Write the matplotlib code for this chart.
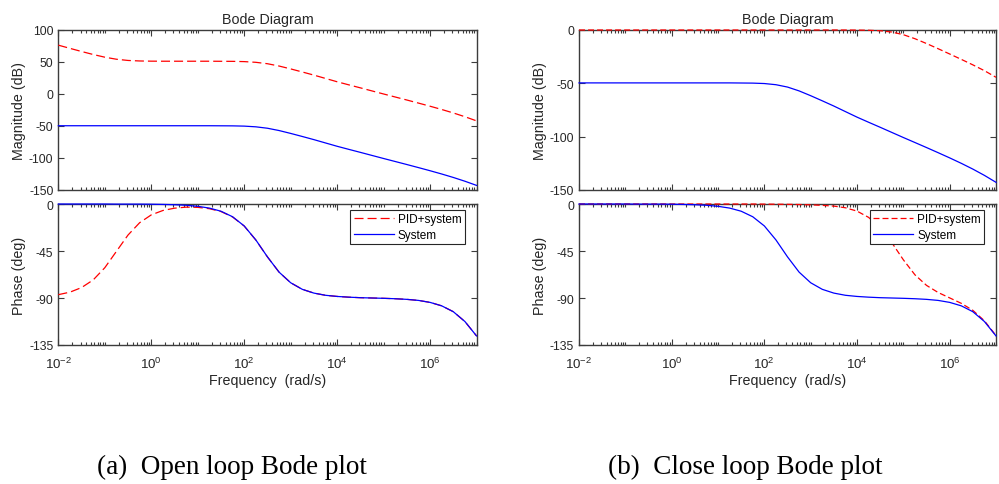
import numpy as np
import matplotlib.pyplot as plt
from matplotlib.ticker import LogLocator, NullFormatter, FixedLocator

plt.rcParams['font.family'] = ['Liberation Sans', 'DejaVu Sans']
plt.rcParams['mathtext.default'] = 'regular'
plt.rcParams['axes.unicode_minus'] = False
plt.rcParams['lines.scale_dashes'] = False

# frequency grid (rad/s), quarter decades
freq = [1e-2, 1.78e-2, 3.16e-2, 5.62e-2, 1e-1, 1.78e-1, 3.16e-1, 5.62e-1,
        1e0, 1.78e0, 3.16e0, 5.62e0, 1e1, 1.78e1, 3.16e1, 5.62e1,
        1e2, 1.78e2, 3.16e2, 5.62e2, 1e3, 1.78e3, 3.16e3, 5.62e3,
        1e4, 1.78e4, 3.16e4, 5.62e4, 1e5, 1.78e5, 3.16e5, 5.62e5,
        1e6, 1.78e6, 3.16e6, 5.62e6, 1e7]

# plant alone (same curve in both figures)
sys_mag = [-49.6, -49.6, -49.6, -49.6, -49.6, -49.6, -49.6, -49.6,
           -49.6, -49.6, -49.6, -49.6, -49.6, -49.6, -49.7, -49.8,
           -50.2, -51.3, -53.5, -57.1, -61.6, -66.4, -71.3, -76.5,
           -81.7, -86.5, -91.2, -96.0, -100.8, -105.5, -110.2, -115.0,
           -119.9, -125.0, -130.4, -136.3, -142.8]
sys_phase = [0, 0, 0, 0, 0, -0.1, -0.1, -0.1,
             -0.2, -0.4, -0.7, -1.2, -2.2, -3.9, -6.9, -12.2,
             -21.0, -34.4, -50.6, -65.2, -75.4, -81.7, -85.3, -87.4,
             -88.5, -89.2, -89.7, -90.0, -90.3, -90.7, -91.3, -92.3,
             -94.2, -97.5, -103.1, -112.5, -126.3]

# PID + plant, open loop
open_mag = [76.3, 71.3, 66.4, 61.7, 57.5, 54.3, 52.4, 51.6,
            51.3, 51.2, 51.2, 51.2, 51.2, 51.2, 51.1, 51.0,
            50.6, 49.5, 47.3, 43.7, 39.2, 34.4, 29.5, 24.3,
            19.1, 14.3, 9.6, 4.8, 0.0, -4.7, -9.4, -14.2,
            -19.1, -24.2, -29.6, -35.5, -42.0]
open_phase = [-86.8, -84.4, -80.0, -72.7, -61.0, -45.3, -29.7, -17.9,
              -10.4, -6.2, -4.0, -3.0, -3.2, -4.5, -7.2, -12.4,
              -21.1, -34.5, -50.6, -65.2, -75.4, -81.7, -85.3, -87.4,
              -88.5, -89.2, -89.7, -90.0, -90.3, -90.7, -91.3, -92.3,
              -94.2, -97.5, -103.1, -112.5, -126.3]

# PID + plant, closed loop
closed_mag = [0, 0, 0, 0, 0, 0, 0, 0,
              0, 0, 0, 0, 0, 0, 0, 0,
              0, 0, 0, 0, 0, 0, 0, -0.02,
              -0.08, -0.24, -0.70, -1.92, -4.40, -8.17, -12.69, -17.53,
              -22.50, -27.53, -32.68, -38.14, -44.34]
closed_phase = [0, 0, 0, 0, 0, 0, 0, 0,
                0, 0, 0, 0, 0, 0, 0, 0,
                -0.1, -0.2, -0.3, -0.5, -0.8, -1.3, -2.0, -3.6,
                -6.8, -12.8, -22.9, -36.9, -53.4, -67.8, -77.9, -84.7,
                -89.9, -95.1, -101.8, -111.8, -126.0]

axis_col = '#3c3c3c'
text_col = '#262626'


def style(ax, yticks, ylim, show_x):
    ax.set_xscale('log')
    ax.set_xlim(1e-2, 1e7)
    ax.set_ylim(*ylim)
    ax.set_yticks(yticks)
    ax.xaxis.set_major_locator(FixedLocator([1e-2, 1e0, 1e2, 1e4, 1e6]))
    ax.xaxis.set_minor_locator(LogLocator(base=10, subs=np.arange(1, 10), numticks=100))
    ax.xaxis.set_minor_formatter(NullFormatter())
    if not show_x:
        ax.set_xticklabels([])
    ax.tick_params(which='both', direction='in', top=True, right=True,
                   colors=axis_col, labelcolor=text_col, labelsize=8.8, width=0.8)
    ax.tick_params(which='major', length=4)
    ax.tick_params(which='minor', length=2)
    ax.tick_params(axis='x', which='major', labelsize=9.6, pad=8)
    for s in ax.spines.values():
        s.set_color(axis_col)
        s.set_linewidth(1.0)


fig = plt.figure(figsize=(9.99, 4.85), dpi=100)

panels = [
    (0.0584, 0.4186, open_mag, open_phase, [-150, -100, -50, 0, 50, 100], (-150, 100), (6.5, 2.9)),
    (0.5796, 0.4174, closed_mag, closed_phase, [-150, -100, -50, 0], (-150, 0), (4.3, 2.2)),
]

for left, width, red_mag, red_phase, mticks, mlim, dash in panels:
    ax_m = fig.add_axes([left, 0.6062, width, 0.3299])
    ax_p = fig.add_axes([left, 0.2866, width, 0.2907])

    ax_m.plot(freq, red_mag, color='red', lw=0.9, linestyle=(0, dash), zorder=3, clip_on=False)
    ax_m.plot(freq, sys_mag, color='blue', lw=0.9, zorder=3, clip_on=False)
    style(ax_m, mticks, mlim, False)
    ax_m.set_ylabel('Magnitude (dB)', fontsize=10.3, color=text_col, labelpad=2)
    ax_m.set_title('Bode Diagram', fontsize=10.3, color=text_col, pad=5)

    ax_p.plot(freq, red_phase, color='red', lw=0.9, linestyle=(0, dash), label='PID+system',
              zorder=3, clip_on=False)
    ax_p.plot(freq, sys_phase, color='blue', lw=0.9, label='System', zorder=3, clip_on=False)
    style(ax_p, [-135, -90, -45, 0], (-135, 0), True)
    ax_p.set_ylabel('Phase (deg)', fontsize=10.3, color=text_col, labelpad=2)
    ax_p.set_xlabel('Frequency  (rad/s)', fontsize=10.3, color=text_col, labelpad=1)

    leg = ax_p.legend(loc='upper right', bbox_to_anchor=(0.972, 0.96), borderaxespad=0,
                      fontsize=8.5, handlelength=3.4, handletextpad=0.3,
                      labelspacing=0.3, borderpad=0.3, fancybox=False, framealpha=1)
    leg.set_zorder(5)
    leg.get_frame().set_edgecolor(text_col)
    leg.get_frame().set_linewidth(0.8)

fig.text(0.232, 0.036, '(a)  Open loop Bode plot', family='Liberation Serif',
         fontsize=19.5, ha='center', va='center', color='black')
fig.text(0.746, 0.036, '(b)  Close loop Bode plot', family='Liberation Serif',
         fontsize=19.5, ha='center', va='center', color='black')

fig.savefig('out.png', dpi=100)
